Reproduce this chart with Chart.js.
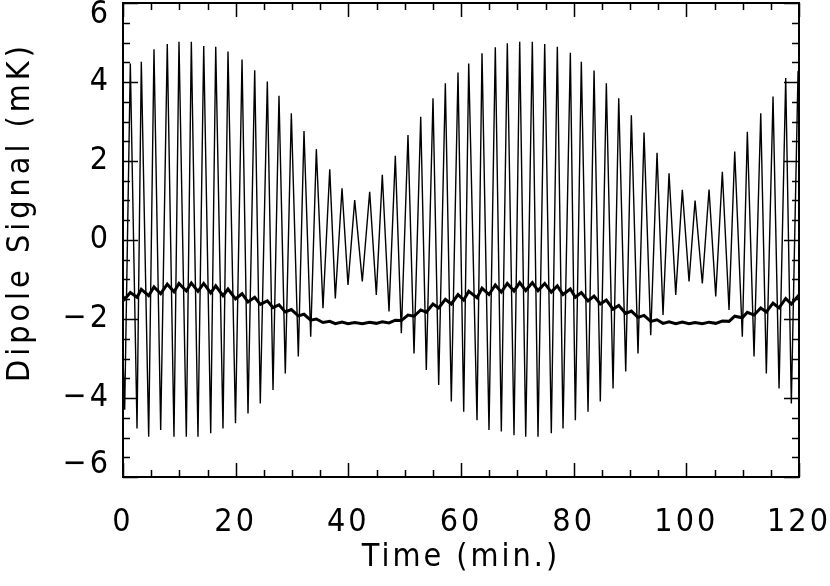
<!DOCTYPE html>
<html>
<head>
<meta charset="utf-8">
<script src="https://cdn.jsdelivr.net/npm/chart.js@4"></script>
<style>
  html, body { margin: 0; padding: 0; background: #fff; }
  canvas { display: block; }
</style>
</head>
<body>
<canvas id="graphic" width="830" height="586"></canvas>
<script>
// time stamps (min.) of the turning points
const times = [
  0.00, 0.30, 1.30, 2.49, 3.25, 4.56, 5.50, 6.69, 7.86, 9.05,
  9.94, 11.24, 12.13, 13.31, 14.33, 15.57, 16.46, 17.75, 18.64, 19.97,
  21.13, 22.19, 23.38, 24.37, 25.62, 26.63, 27.69, 28.81, 29.88, 31.12,
  32.13, 33.32, 34.32, 35.50, 36.70, 37.69, 38.88, 39.94, 41.13, 42.48,
  43.79, 44.97, 46.03, 47.22, 48.34, 49.41, 50.59, 51.66, 52.85, 53.84,
  55.03, 56.04, 57.22, 58.28, 59.47, 60.48, 61.37, 62.84, 63.73, 64.97,
  66.09, 67.16, 68.22, 69.41, 70.42, 71.49, 72.66, 73.67, 74.86, 76.03,
  77.10, 78.11, 79.41, 80.30, 81.36, 82.55, 83.62, 84.73, 85.80, 86.99,
  88.00, 89.24, 90.24, 91.42, 92.49, 93.68, 94.80, 95.86, 96.93, 98.12,
  99.29, 100.48, 101.55, 102.84, 104.03, 105.22, 106.39, 107.58, 108.59, 109.94,
  110.83, 112.02, 113.21, 114.20, 115.39, 116.46, 117.64, 118.64, 119.83, 120.00
];

// raw dipole signal (mK)
const rawSignal = [
  -3.00, -4.30, 4.47, -4.77, 4.51, -4.98, 4.83, -4.81, 4.96, -4.98,
  5.02, -4.98, 5.02, -4.98, 4.91, -4.89, 4.89, -4.77, 4.77, -4.64,
  4.57, -4.39, 4.30, -4.14, 4.01, -3.80, 3.65, -3.38, 3.21, -2.95,
  2.76, -2.45, 2.30, -1.73, 1.79, -1.48, 1.31, -1.14, 1.01, -1.05,
  1.22, -1.39, 1.65, -1.81, 2.13, -2.36, 2.66, -2.87, 3.12, -3.29,
  3.59, -3.67, 3.97, -4.09, 4.24, -4.35, 4.47, -4.56, 4.73, -4.81,
  4.88, -4.85, 4.98, -4.94, 5.02, -4.98, 5.02, -4.98, 4.96, -4.89,
  4.89, -4.77, 4.74, -4.56, 4.51, -4.35, 4.29, -4.09, 3.97, -3.76,
  3.59, -3.33, 3.16, -2.87, 2.72, -2.41, 2.21, -1.90, 1.69, -1.39,
  1.27, -1.05, 1.00, -1.10, 1.28, -1.43, 1.73, -1.77, 2.24, -2.45,
  2.74, -2.95, 3.21, -3.38, 3.63, -3.76, 4.10, -4.14, 4.26, 4.30
];

// slowly varying (thick) curve (mK)
const slowSignal = [
  -1.43, -1.50, -1.33, -1.45, -1.25, -1.41, -1.19, -1.36, -1.12, -1.31,
  -1.10, -1.29, -1.09, -1.30, -1.10, -1.34, -1.16, -1.41, -1.24, -1.49,
  -1.36, -1.57, -1.45, -1.63, -1.54, -1.71, -1.64, -1.82, -1.76, -1.92,
  -1.88, -2.03, -2.00, -2.09, -2.06, -2.12, -2.08, -2.12, -2.09, -2.12,
  -2.08, -2.11, -2.07, -2.10, -2.03, -2.04, -1.90, -1.93, -1.77, -1.83,
  -1.62, -1.72, -1.50, -1.62, -1.38, -1.52, -1.30, -1.46, -1.22, -1.38,
  -1.14, -1.32, -1.10, -1.29, -1.08, -1.28, -1.08, -1.28, -1.10, -1.32,
  -1.16, -1.38, -1.24, -1.45, -1.33, -1.54, -1.42, -1.62, -1.52, -1.75,
  -1.66, -1.86, -1.80, -1.96, -1.91, -2.06, -2.02, -2.11, -2.07, -2.12,
  -2.08, -2.12, -2.09, -2.12, -2.08, -2.11, -2.05, -2.06, -1.93, -1.97,
  -1.83, -1.90, -1.72, -1.82, -1.60, -1.72, -1.48, -1.62, -1.42, -1.45
];

const xRange = [0, 120];
const yRange = [-6, 6];
const xStep = 20;
const yStep = 2;

const fontFamily = '"Liberation Sans Narrow", "DejaVu Sans Condensed", sans-serif';

// inward ticks on all four sides plus the box, placed with the chart's scales
const frameTicks = {
  id: 'frameTicks',
  beforeDraw(chart) {
    chart.ctx.letterSpacing = '3px';
  },
  afterDraw(chart) {
    const {ctx, chartArea: a, scales: {x, y}} = chart;
    ctx.save();
    ctx.strokeStyle = '#000';
    ctx.lineWidth = 1.5;
    ctx.beginPath();
    for (let t = xRange[0]; t <= xRange[1]; t += 5) {
      const px = Math.round(x.getPixelForValue(t)) + 0.5;
      const len = t % xStep === 0 ? 14 : 7;
      ctx.moveTo(px, a.bottom); ctx.lineTo(px, a.bottom - len);
      ctx.moveTo(px, a.top); ctx.lineTo(px, a.top + len);
    }
    for (let v = yRange[0]; v <= yRange[1]; v += 0.5) {
      const py = Math.round(y.getPixelForValue(v)) + 0.5;
      const len = v % yStep === 0 ? 15 : 7;
      ctx.moveTo(a.left, py); ctx.lineTo(a.left + len, py);
      ctx.moveTo(a.right, py); ctx.lineTo(a.right - len, py);
    }
    ctx.stroke();
    ctx.lineWidth = 2;
    ctx.strokeRect(a.left, a.top, a.right - a.left, a.bottom - a.top);

    // y title
    ctx.fillStyle = '#000';
    ctx.font = '32px ' + fontFamily;
    ctx.letterSpacing = '4px';
    ctx.textAlign = 'center';
    ctx.textBaseline = 'middle';
    ctx.translate(21, 212);
    ctx.rotate(-Math.PI / 2);
    ctx.fillText('Dipole Signal (mK)', 0, 0);
    ctx.restore();
  }
};

const data = {
  datasets: [
    {
      label: 'signal',
      data: times.map((t, i) => ({x: t, y: rawSignal[i]})),
      borderColor: '#000',
      borderWidth: 1.4,
      pointRadius: 0,
      tension: 0
    },
    {
      label: 'smooth',
      data: times.map((t, i) => ({x: t, y: slowSignal[i]})),
      borderColor: '#000',
      borderWidth: 3,
      pointRadius: 0,
      tension: 0
    }
  ]
};

const config = {
  type: 'line',
  data: data,
  options: {
    responsive: false,
    animation: false,
    events: [],
    layout: { padding: { top: 3, right: 31, left: 0, bottom: 0 } },
    plugins: { legend: { display: false }, tooltip: { enabled: false } },
    scales: {
      x: {
        type: 'linear',
        min: xRange[0], max: xRange[1],
        grid: { display: false, drawTicks: false },
        border: { display: false },
        ticks: {
          stepSize: xStep,
          color: '#000',
          padding: 26,
          maxRotation: 0,
          font: { family: fontFamily, size: 32 }
        },
        title: {
          display: true,
          text: 'Time (min.)',
          color: '#000',
          padding: { top: 0, bottom: 9 },
          font: { family: fontFamily, size: 32 }
        },
        afterFit(scale) {
          scale.height = 109;
          scale.paddingLeft = 0;
          scale.paddingRight = 0;
        }
      },
      y: {
        min: yRange[0], max: yRange[1],
        grid: { display: false, drawTicks: false },
        border: { display: false },
        ticks: {
          stepSize: yStep,
          autoSkip: false,
          color: '#000',
          padding: 12,
          font: { family: fontFamily, size: 32, lineHeight: 0.75 },
          callback: (v) => {
            const s = (v < 0 ? '\u2212' : '') + Math.abs(v);
            if (v === yRange[1]) return ['', s];
            if (v === yRange[0]) return [s, ''];
            return s;
          }
        },
        afterFit(scale) {
          scale.width = 123;
          scale.paddingTop = 0;
          scale.paddingBottom = 0;
        }
      }
    }
  },
  plugins: [frameTicks]
};

const dipoleChart = new Chart(document.querySelector('#graphic'), config);
</script>
</body>
</html>
